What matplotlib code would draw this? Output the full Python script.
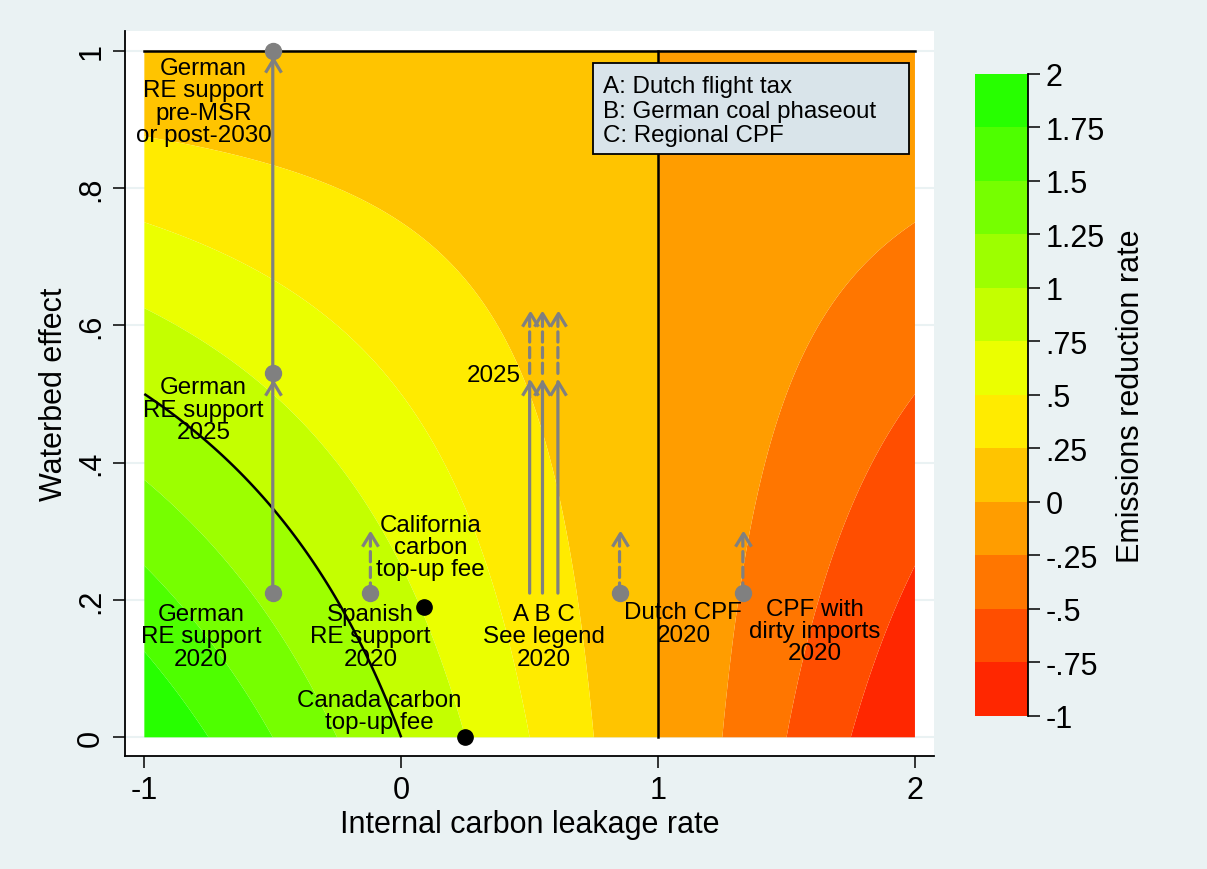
import numpy as np
import matplotlib
matplotlib.use('Agg')
import matplotlib.pyplot as plt
from matplotlib.transforms import ScaledTranslation

plt.rcParams['font.family'] = ['Liberation Sans', 'DejaVu Sans']

# ---------------- data ----------------
leakage = np.linspace(-1, 2, 301)          # internal carbon leakage rate axis
waterbed = np.linspace(0, 1, 201)          # waterbed effect axis
levels = [-1, -0.75, -0.5, -0.25, 0, 0.25, 0.5, 0.75, 1, 1.25, 1.5, 1.75, 2]
level_labels = ['-1', '-.75', '-.5', '-.25', '0', '.25', '.5', '.75', '1',
                '1.25', '1.5', '1.75', '2']
band_colors = ['#FF2700', '#FF4E00', '#FF7600', '#FF9D00', '#FFC400', '#FFEB00',
               '#EBFF00', '#C4FF00', '#9DFF00', '#76FF00', '#4EFF00', '#27FF00']

xticks = [-1, 0, 1, 2]
xtick_labels = ['-1', '0', '1', '2']
yticks = [0, 0.2, 0.4, 0.6, 0.8, 1]
ytick_labels = ['0', '.2', '.4', '.6', '.8', '1']

# reference lines (zero-reduction boundary)
vline_x = [1, 1]
vline_y = [0, 1]
hline_x = [-1, 2]
hline_y = [1, 1]

# gray policy points
pt_x = [-0.5, -0.5, -0.5, -0.12, 0.85, 1.33]
pt_y = [0.21, 0.53, 1.0, 0.21, 0.21, 0.21]

# solid arrows: x, start y, end y
solid_x = [-0.5, -0.5, 0.50, 0.55, 0.61]
solid_y0 = [0.21, 0.53, 0.21, 0.21, 0.21]
solid_y1 = [0.53, 1.0, 0.53, 0.53, 0.53]

# dashed arrows
dash_x = [-0.12, 0.50, 0.55, 0.61, 0.85, 1.33]
dash_y0 = [0.21, 0.53, 0.53, 0.53, 0.21, 0.21]
dash_y1 = [0.31, 0.63, 0.63, 0.63, 0.31, 0.31]

# black points (carbon top-up fees)
blk_x = [0.09, 0.25]
blk_y = [0.19, 0.0]

# labels
lab_text = ['German\nRE support\npre-MSR\nor post-2030',
            'German\nRE support\n2025',
            'German\nRE support\n2020',
            'Spanish\nRE support\n2020',
            'California\ncarbon\ntop-up fee',
            'Canada carbon\ntop-up fee',
            'A B C\nSee legend\n2020',
            '2025',
            'Dutch CPF\n2020',
            'CPF with\ndirty imports\n2020']
lab_x = [-0.77, -0.77, -0.78, -0.12, 0.115, -0.085, 0.555, 0.36, 1.098, 1.61]
lab_y = [0.926, 0.477, 0.147, 0.147, 0.277, 0.038, 0.147, 0.528, 0.166, 0.155]

legend_lines = ['A: Dutch flight tax', 'B: German coal phaseout', 'C: Regional CPF']

# ---------------- figure ----------------
BG = '#EAF2F3'
GRAY = '#808080'
BIG = 22
SMALL = 17.4
fig = plt.figure(figsize=(12.07, 8.70), dpi=100, facecolor=BG)
ax = fig.add_axes([0.10356, 0.12989, 0.67050, 0.83300])
ax.set_facecolor('white')
ax.set_xlim(-1.0753, 2.0753)
ax.set_ylim(-0.0272, 1.0282)

Lg, Wg = np.meshgrid(leakage, waterbed)
Z = (1 - Lg) * (1 - Wg)
cf = ax.contourf(Lg, Wg, Z, levels=levels, colors=band_colors, zorder=1, antialiased=True)
ax.contour(Lg, Wg, Z, levels=[1], colors='black', linewidths=1.8, zorder=3)
ax.plot(vline_x, vline_y, color='black', lw=1.8, zorder=3)
ax.plot(hline_x, hline_y, color='black', lw=1.8, zorder=3)

ax.set_axisbelow(True)
ax.yaxis.grid(True, color=BG, lw=1.5)
ax.xaxis.grid(False)

for s in ['top', 'right']:
    ax.spines[s].set_visible(False)
for s in ['left', 'bottom']:
    ax.spines[s].set_linewidth(1.3)

ax.set_xticks(xticks)
ax.set_xticklabels(xtick_labels)
ax.set_yticks(yticks)
ax.set_yticklabels(ytick_labels, rotation=90, va='center')
ax.tick_params(axis='both', labelsize=BIG, length=8.5, width=1.1, direction='out')
ax.tick_params(axis='x', pad=5)
ax.tick_params(axis='y', pad=5)
ax.set_xlabel('Internal carbon leakage rate', fontsize=BIG, labelpad=3)
ax.set_ylabel('Waterbed effect', fontsize=BIG, labelpad=5)

# arrows
tip_off = ScaledTranslation(0, -6.0 / 72, fig.dpi_scale_trans)
chevron = [(-1, -1.66), (0, 0), (1, -1.66)]
for x, y0, y1 in zip(solid_x, solid_y0, solid_y1):
    ax.annotate('', xy=(x, y1), xytext=(x, y0),
                arrowprops=dict(arrowstyle='-', color=GRAY, lw=2.3,
                                shrinkA=0, shrinkB=6.0), zorder=4)
    ax.plot([x], [y1], marker=chevron, ms=19, mfc='none', mec=GRAY, mew=2.3,
            transform=ax.transData + tip_off, zorder=4)
for x, y0, y1 in zip(dash_x, dash_y0, dash_y1):
    ax.annotate('', xy=(x, y1), xytext=(x, y0),
                arrowprops=dict(arrowstyle='-', color=GRAY, lw=2.3,
                                linestyle=(0, (3.2, 1.7)),
                                shrinkA=0, shrinkB=6.0), zorder=4)
    ax.plot([x], [y1], marker=chevron, ms=19, mfc='none', mec=GRAY, mew=2.3,
            transform=ax.transData + tip_off, zorder=4)

ax.plot(pt_x, pt_y, 'o', color=GRAY, ms=11.5, mec=GRAY, zorder=5)
ax.plot(blk_x, blk_y, 'o', color='black', ms=11, zorder=5, clip_on=False)

for t, x, y in zip(lab_text, lab_x, lab_y):
    ax.text(x, y, t, ha='center', va='center', fontsize=SMALL, linespacing=1.02,
            zorder=6)

# legend box
ax.add_patch(plt.Rectangle((0.5786, 0.8307), 0.3901, 0.1251, transform=ax.transAxes,
                           facecolor='#D9E4EA', edgecolor='black', lw=1.3, zorder=7))
for t, yy in zip(legend_lines, [0.9158, 0.8813, 0.8490]):
    ax.text(0.5903, yy, t, transform=ax.transAxes, ha='left', va='baseline',
            fontsize=SMALL, zorder=8)

# colorbar
cax = fig.add_axes([0.8078, 0.1759, 0.0439, 0.7379])
cb = fig.colorbar(cf, cax=cax, ticks=levels)
cb.outline.set_visible(False)
cb.ax.set_yticklabels(level_labels)
cb.ax.tick_params(labelsize=BIG, length=8.5, width=1.1, direction='out', pad=4)
cax.plot([1, 1], [0, 1], transform=cax.transAxes, color='black', lw=1.3, clip_on=False)
cb.set_label('Emissions reduction rate', fontsize=BIG, labelpad=8)

fig.savefig('out.png', dpi=100, facecolor=BG)
